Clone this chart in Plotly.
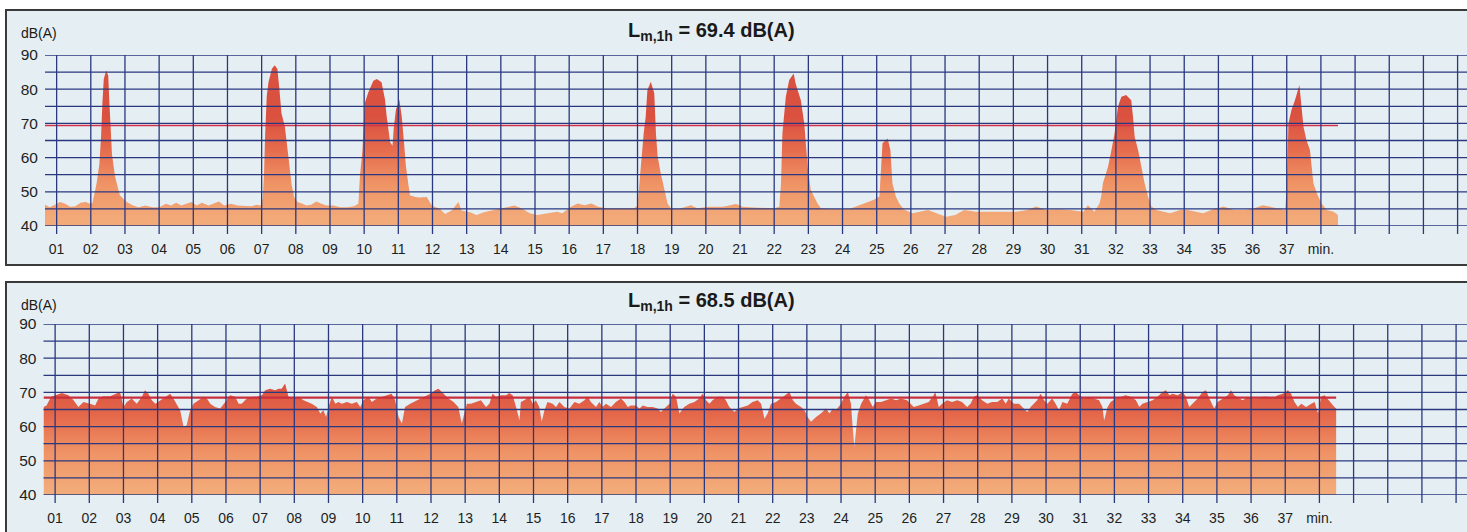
import plotly.graph_objects as go

# ---------------- data (minutes, dB(A)) ----------------
top_t = [0.66, 0.8, 0.95, 1.1, 1.25, 1.4, 1.55, 1.7, 1.85, 1.98, 2.05, 2.1, 2.17, 2.25, 2.3, 2.34, 2.38, 2.45,
         2.51, 2.55, 2.58, 2.62, 2.71, 2.85, 3.05, 3.24, 3.4, 3.6, 3.8, 4.0, 4.2, 4.35, 4.5, 4.65, 4.8, 4.95,
         5.1, 5.25, 5.45, 5.6, 5.75, 5.9, 6.1, 6.3, 6.5, 6.7, 6.85, 6.97, 7.03, 7.07, 7.1, 7.15, 7.2, 7.3,
         7.38, 7.46, 7.52, 7.58, 7.68, 7.75, 7.82, 7.88, 7.95, 8.05, 8.2, 8.3, 8.45, 8.6, 8.75, 8.9, 9.1,
         9.3, 9.5, 9.7, 9.83, 9.88, 9.95, 10.02, 10.12, 10.27, 10.37, 10.51, 10.61, 10.66, 10.76, 10.83,
         10.87, 10.93, 11.03, 11.1, 11.17, 11.22, 11.29, 11.34, 11.5, 11.63, 11.83, 11.98, 12.22, 12.37,
         12.56, 12.76, 12.85, 13.1, 13.29, 13.5, 13.8, 14.2, 14.4, 14.6, 14.85, 15.07, 15.35, 15.65, 15.8,
         16.05, 16.25, 16.45, 16.65, 16.85, 17.1, 17.5, 17.9, 18.0, 18.05, 18.12, 18.18, 18.24, 18.29,
         18.39, 18.49, 18.54, 18.59, 18.68, 18.78, 18.88, 18.98, 19.2, 19.56, 19.75, 20.1, 20.5, 20.88,
         21.08, 21.4, 21.7, 22.0, 22.15, 22.2, 22.24, 22.3, 22.34, 22.44, 22.57, 22.63, 22.78, 22.88,
         22.98, 23.07, 23.27, 23.37, 23.75, 24.2, 24.7, 24.9, 25.08, 25.12, 25.17, 25.32, 25.4, 25.46,
         25.56, 25.66, 25.8, 26.05, 26.25, 26.5, 26.75, 27.03, 27.3, 27.56, 27.9, 28.3, 28.7, 29.1, 29.4,
         29.67, 29.95, 30.25, 30.65, 31.05, 31.18, 31.37, 31.52, 31.57, 31.62, 31.77, 31.87, 31.96, 32.06,
         32.16, 32.3, 32.45, 32.5, 32.55, 32.65, 32.74, 32.84, 32.94, 33.04, 33.18, 33.58, 33.88, 34.1,
         34.55, 34.85, 35.15, 35.45, 35.8, 36.05, 36.3, 36.5, 36.8, 36.95, 37.0, 37.02, 37.05, 37.14,
         37.24, 37.37, 37.44, 37.49, 37.58, 37.68, 37.73, 37.78, 37.88, 38.02, 38.17, 38.37, 38.5]
top_db = [46.2, 45.5, 46.2, 47.0, 46.5, 45.6, 45.8, 46.8, 47.0, 46.5, 46.8, 49.0, 52.5, 58.0, 66.0, 76.0, 83.0,
          85.5, 84.0, 75.0, 68.0, 61.0, 54.5, 49.0, 47.0, 46.0, 45.5, 46.0, 45.5, 45.5, 46.5, 46.0, 46.8,
          46.0, 46.5, 47.0, 46.0, 46.8, 46.0, 46.5, 47.2, 46.0, 46.5, 46.0, 46.0, 45.8, 46.2, 46.0, 48.0,
          55.0, 66.0, 78.0, 82.0, 86.0, 87.0, 86.0, 80.0, 73.0, 69.0, 63.0, 57.0, 52.0, 48.5, 47.0, 46.5,
          46.0, 46.2, 47.2, 46.5, 46.0, 46.0, 45.5, 45.5, 45.8, 46.5, 55.0, 62.0, 76.0, 79.0, 82.5, 83.0,
          82.0, 77.0, 72.0, 64.5, 63.5, 69.0, 74.0, 77.0, 72.0, 64.0, 57.7, 52.5, 49.0, 48.5, 48.3, 48.5,
          46.0, 45.0, 43.5, 44.5, 47.0, 44.5, 44.0, 43.2, 44.0, 44.7, 45.6, 46.0, 45.2, 43.7, 43.2, 43.7,
          44.2, 43.7, 45.6, 46.6, 46.1, 46.6, 45.6, 45.2, 45.2, 45.2, 46.0, 52.5, 59.3, 67.0, 72.0, 79.8,
          82.2, 78.8, 67.0, 60.3, 55.4, 50.5, 46.6, 45.2, 45.0, 46.1, 45.2, 45.6, 45.6, 46.4, 45.6, 45.4,
          45.4, 45.2, 45.6, 52.5, 67.0, 74.0, 77.8, 82.7, 84.6, 81.6, 76.8, 70.0, 57.3, 50.5, 46.6, 45.2,
          45.0, 45.0, 46.8, 47.6, 48.6, 57.3, 64.2, 65.6, 62.2, 52.5, 48.6, 46.6, 44.8, 43.7, 44.2, 44.7,
          43.7, 42.7, 43.2, 44.7, 44.2, 44.2, 44.2, 44.2, 44.7, 45.7, 44.7, 44.9, 44.7, 44.2, 46.1, 44.2,
          46.6, 48.6, 52.5, 57.3, 62.2, 67.0, 74.9, 77.8, 78.3, 76.8, 72.0, 66.0, 62.2, 57.3, 52.5, 48.6,
          45.7, 44.7, 43.7, 44.7, 44.7, 43.7, 44.9, 45.7, 44.7, 44.7, 45.2, 46.1, 45.7, 45.2, 44.7, 50.5,
          62.2, 70.0, 74.0, 76.8, 81.2, 74.0, 69.0, 65.0, 62.2, 57.3, 52.5, 49.6, 46.6, 44.7, 44.2, 43.2]

bot_t = [0.66, 0.75, 0.88, 1.0, 1.2, 1.39, 1.54, 1.68, 1.83, 2.02, 2.17, 2.27, 2.41, 2.61, 2.8, 2.9, 3.0,
         3.1, 3.24, 3.39, 3.54, 3.63, 3.73, 3.83, 3.93, 4.07, 4.22, 4.37, 4.46, 4.56, 4.66, 4.76, 4.85,
         4.95, 5.05, 5.2, 5.34, 5.44, 5.54, 5.68, 5.83, 5.98, 6.12, 6.27, 6.37, 6.46, 6.61, 6.76, 6.9,
         7.05, 7.15, 7.29, 7.44, 7.54, 7.63, 7.73, 7.83, 7.98, 8.12, 8.27, 8.37, 8.51, 8.66, 8.76, 8.85,
         8.93, 9.0, 9.1, 9.2, 9.29, 9.39, 9.54, 9.68, 9.83, 9.93, 10.02, 10.17, 10.27, 10.41, 10.56,
         10.71, 10.85, 10.95, 11.05, 11.15, 11.24, 11.39, 11.59, 11.78, 11.98, 12.12, 12.22, 12.37,
         12.51, 12.66, 12.8, 12.9, 13.05, 13.17, 13.32, 13.46, 13.61, 13.71, 13.8, 13.9, 14.05, 14.2,
         14.29, 14.39, 14.49, 14.59, 14.63, 14.73, 14.88, 14.98, 15.07, 15.17, 15.24, 15.32, 15.41,
         15.56, 15.66, 15.76, 15.9, 16.05, 16.2, 16.34, 16.49, 16.59, 16.68, 16.83, 16.93, 17.02, 17.12,
         17.27, 17.41, 17.56, 17.66, 17.76, 17.85, 18.0, 18.1, 18.2, 18.34, 18.49, 18.63, 18.73, 18.83,
         18.98, 19.07, 19.17, 19.27, 19.41, 19.56, 19.71, 19.85, 19.95, 20.05, 20.15, 20.24, 20.39,
         20.54, 20.63, 20.73, 20.88, 20.98, 21.12, 21.27, 21.41, 21.56, 21.66, 21.76, 21.85, 21.95,
         22.1, 22.24, 22.39, 22.49, 22.59, 22.68, 22.83, 22.93, 23.02, 23.12, 23.27, 23.41, 23.56,
         23.66, 23.76, 23.85, 24.0, 24.1, 24.2, 24.29, 24.34, 24.39, 24.44, 24.49, 24.59, 24.73, 24.83,
         24.93, 25.02, 25.17, 25.32, 25.46, 25.61, 25.76, 25.93, 26.03, 26.13, 26.27, 26.42, 26.57,
         26.71, 26.76, 26.86, 26.96, 27.1, 27.25, 27.4, 27.54, 27.69, 27.79, 27.89, 27.98, 28.13, 28.28,
         28.42, 28.57, 28.72, 28.82, 28.91, 29.06, 29.21, 29.35, 29.45, 29.55, 29.65, 29.74, 29.84,
         29.94, 30.04, 30.18, 30.28, 30.38, 30.48, 30.62, 30.77, 30.87, 30.97, 31.11, 31.26, 31.41,
         31.55, 31.65, 31.7, 31.8, 31.89, 32.04, 32.19, 32.33, 32.48, 32.63, 32.73, 32.82, 32.97, 33.12,
         33.26, 33.41, 33.51, 33.61, 33.7, 33.85, 34.0, 34.09, 34.19, 34.29, 34.44, 34.58, 34.68, 34.78,
         34.92, 35.02, 35.17, 35.32, 35.41, 35.51, 35.66, 35.76, 35.9, 36.05, 36.2, 36.34, 36.49, 36.64,
         36.78, 36.93, 37.08, 37.17, 37.27, 37.37, 37.47, 37.61, 37.76, 37.86, 37.96, 38.05, 38.15,
         38.3, 38.44, 38.49]
bot_db = [65.7, 66.2, 68.7, 69.1, 69.8, 69.2, 67.7, 65.7, 67.2, 66.7, 66.2, 68.2, 68.9, 68.9, 69.6, 70.1,
          65.7, 67.2, 68.2, 66.7, 68.7, 70.6, 69.6, 67.7, 66.7, 67.7, 68.7, 69.6, 68.2, 66.7, 64.8, 59.9,
          60.4, 64.8, 66.7, 67.7, 68.7, 68.2, 66.7, 65.7, 65.3, 67.2, 69.2, 68.7, 66.7, 66.7, 68.2, 68.7,
          68.7, 69.2, 70.6, 71.1, 70.6, 71.1, 71.1, 72.6, 68.7, 68.2, 68.7, 67.7, 67.2, 66.7, 65.7, 63.8,
          64.8, 62.8, 65.7, 68.7, 66.7, 67.2, 66.7, 67.2, 66.7, 67.2, 65.7, 67.7, 68.7, 67.2, 68.2, 68.7,
          69.2, 69.6, 67.7, 62.8, 60.9, 65.7, 66.7, 67.7, 68.7, 69.6, 70.6, 71.1, 69.6, 68.2, 67.2, 65.7,
          60.9, 66.7, 66.7, 67.2, 67.7, 65.7, 66.7, 69.6, 68.7, 69.2, 69.2, 69.8, 69.2, 65.7, 61.8, 67.2,
          67.7, 68.7, 66.7, 67.7, 65.7, 61.4, 64.8, 67.2, 66.7, 65.7, 67.2, 65.7, 65.3, 67.2, 66.7, 67.7,
          68.7, 67.2, 65.7, 67.2, 65.7, 66.7, 65.7, 67.2, 68.2, 67.2, 65.7, 66.2, 66.2, 65.3, 66.2, 65.7,
          65.7, 65.3, 64.3, 65.3, 66.7, 69.6, 68.7, 63.8, 65.7, 66.7, 67.2, 68.2, 69.6, 67.7, 66.7, 67.7,
          68.7, 68.7, 67.7, 65.7, 64.3, 65.3, 65.7, 66.2, 67.2, 67.7, 66.7, 62.3, 63.8, 66.7, 67.2, 68.2,
          69.2, 70.1, 67.7, 66.7, 65.7, 64.8, 62.8, 61.4, 62.8, 63.8, 65.3, 63.8, 65.3, 64.8, 66.7, 68.7,
          70.1, 66.7, 59.9, 54.0, 58.9, 63.8, 66.7, 69.2, 67.7, 65.7, 67.2, 67.2, 67.7, 68.2, 67.7, 68.2,
          67.7, 66.7, 65.7, 66.2, 66.7, 67.2, 69.2, 70.1, 65.7, 66.7, 67.7, 67.2, 67.7, 67.2, 65.7, 66.7,
          68.7, 69.2, 67.7, 66.7, 67.2, 67.2, 68.2, 66.7, 68.2, 66.7, 66.7, 65.3, 64.3, 65.7, 66.7, 67.7,
          69.6, 67.7, 66.7, 68.2, 66.7, 64.8, 67.2, 66.7, 69.6, 70.1, 69.2, 68.2, 68.7, 68.2, 67.7, 65.7,
          61.8, 65.7, 67.2, 68.2, 68.7, 69.2, 68.7, 67.7, 65.7, 66.7, 67.2, 67.7, 68.7, 70.1, 70.6, 69.2,
          69.6, 69.2, 70.1, 68.7, 65.7, 66.7, 68.2, 70.1, 70.6, 68.2, 65.3, 67.2, 68.2, 69.2, 70.6, 69.2,
          68.2, 67.7, 68.7, 68.2, 68.2, 68.7, 68.7, 68.2, 69.2, 69.6, 70.6, 69.6, 67.2, 65.7, 66.7, 65.7,
          66.7, 67.2, 63.8, 68.7, 69.2, 67.2, 65.7, 65.3]

LM_TOP = 69.4
LM_BOT = 68.5
TITLES = ["<b>L<sub>m,1h</sub> = 69.4 dB(A)</b>", "<b>L<sub>m,1h</sub> = 68.5 dB(A)</b>"]
Y_LABELS = [40, 50, 60, 70, 80, 90]
Y_GRID = [40, 45, 50, 55, 60, 65, 70, 75, 80, 85, 90]
X_LABELS = list(range(1, 39))
X_TEXT = ["%02d" % m for m in range(1, 38)] + ["min."]
X_GRID = list(range(1, 43))

# ---------------- style ----------------
W, H = 1467, 532
BG = "#e5eef2"
GRID = "#2a3880"
FONT = "Liberation Sans, Arial, sans-serif"
PX_PER_MIN = 34.17
FILL_SCALE = [[0.0, "#f3aa79"], [0.35, "#ef9365"], [0.7, "#e5694b"], [1.0, "#da5140"]]

fig = go.Figure()

panels = [
    dict(t=top_t, v=top_db, lm=LM_TOP, xa="x", ya="y", left=45.0, ytop=55, ybot=226,
         frame=(10, 265), title_y=31, unit_y=33, lmw=1.6, lmc="#d3304a"),
    dict(t=bot_t, v=bot_db, lm=LM_BOT, xa="x2", ya="y2", left=43.5, ytop=324, ybot=495,
         frame=(282, 545), title_y=301, unit_y=305, lmw=2.2, lmc="#c92f3f"),
]

shapes = []
annotations = []
for i, p in enumerate(panels):
    fig.add_trace(go.Scatter(
        x=p["t"], y=p["v"], xaxis=p["xa"], yaxis=p["ya"], mode="lines",
        line=dict(width=0, color="#da5140"), fill="tozeroy",
        fillgradient=dict(type="vertical", colorscale=FILL_SCALE, start=42, stop=72),
        hoverinfo="skip", showlegend=False))
    fig.add_trace(go.Scatter(
        x=[p["t"][0], p["t"][-1]], y=[p["lm"], p["lm"]], xaxis=p["xa"], yaxis=p["ya"],
        mode="lines", line=dict(width=p["lmw"], color=p["lmc"]),
        hoverinfo="skip", showlegend=False))

    # panel frame / background
    shapes.append(dict(type="rect", xref="paper", yref="paper", layer="below",
                       x0=6 / W, x1=1.02, y0=1 - p["frame"][1] / H, y1=1 - p["frame"][0] / H,
                       fillcolor=BG, line=dict(color="#3a3a3a", width=2)))
    # grid drawn above the fill; vertical lines run a little below the axis as ticks
    xr = p["xa"]
    yr = p["ya"]
    plot_h = p["ybot"] - p["ytop"]
    for yv in Y_GRID:
        shapes.append(dict(type="line", xref=xr + " domain", yref=yr, x0=0, x1=1, y0=yv, y1=yv,
                           layer="above", line=dict(color=GRID, width=1.3)))
    for xv in X_GRID:
        shapes.append(dict(type="line", xref=xr, yref=yr + " domain", x0=xv, x1=xv,
                           y0=-8 / plot_h, y1=1, layer="above", line=dict(color=GRID, width=1.3)))

    annotations.append(dict(text=TITLES[i], xref="paper", yref="paper", x=711 / W, y=1 - p["title_y"] / H,
                            xanchor="center", yanchor="middle", showarrow=False,
                            font=dict(family=FONT, size=20, color="#1a1a1a")))
    annotations.append(dict(text="dB(A)", xref="paper", yref="paper", x=19 / W, y=1 - p["unit_y"] / H,
                            xanchor="left", yanchor="middle", showarrow=False,
                            font=dict(family=FONT, size=14, color="#1a1a1a")))

    xkey = "xaxis" if i == 0 else "xaxis2"
    ykey = "yaxis" if i == 0 else "yaxis2"
    x0 = 0.66
    x1 = x0 + (W - p["left"]) / PX_PER_MIN
    fig.update_layout(**{
        xkey: dict(domain=[p["left"] / W, 1], range=[x0, x1], anchor=yr,
                   tickvals=X_LABELS, ticktext=X_TEXT, ticks="", showgrid=False, zeroline=False,
                   showline=False, ticklabelstandoff=13, automargin=False,
                   tickfont=dict(family=FONT, size=14, color="#1e1e1e"), fixedrange=True),
        ykey: dict(domain=[1 - p["ybot"] / H, 1 - p["ytop"] / H], range=[40, 90], anchor=xr,
                   tickvals=Y_LABELS, ticks="", showgrid=False, zeroline=False,
                   showline=False, ticklabelstandoff=6, automargin=False,
                   tickfont=dict(family=FONT, size=15.5, color="#1e1e1e"), fixedrange=True),
    })

fig.update_layout(width=W, height=H, margin=dict(l=0, r=0, t=0, b=0, pad=0), autosize=False,
                  paper_bgcolor="white", plot_bgcolor=BG, shapes=shapes,
                  annotations=annotations, showlegend=False)

fig.write_html("out.html", config={"displayModeBar": False, "staticPlot": True},
               post_script="document.body.style.margin='0';document.body.style.overflow='hidden';")
